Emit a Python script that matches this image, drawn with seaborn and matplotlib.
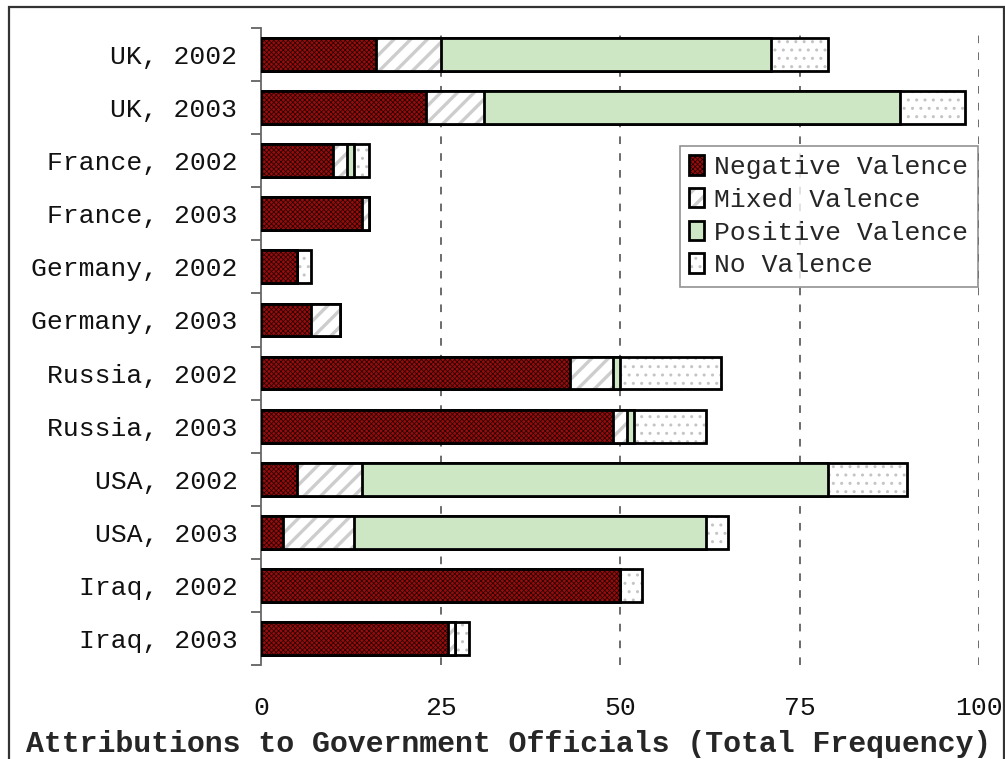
import matplotlib
matplotlib.use("Agg")
import matplotlib.pyplot as plt
import seaborn as sns
import numpy as np
import pandas as pd
from matplotlib.patches import Patch, Rectangle
from matplotlib.colors import to_rgba

categories = ["UK, 2002", "UK, 2003", "France, 2002", "France, 2003",
              "Germany, 2002", "Germany, 2003", "Russia, 2002", "Russia, 2003",
              "USA, 2002", "USA, 2003", "Iraq, 2002", "Iraq, 2003"]
negative = [16, 23, 10, 14, 5, 7, 43, 49, 5, 3, 50, 26]
mixed    = [9, 8, 2, 1, 0, 4, 6, 2, 9, 10, 0, 1]
positive = [46, 58, 1, 0, 0, 0, 1, 1, 65, 49, 0, 0]
novalence = [8, 9, 2, 0, 2, 0, 14, 10, 11, 3, 3, 2]
series_names = ["Negative Valence", "Mixed Valence", "Positive Valence", "No Valence"]
x_ticks = [0, 25, 50, 75, 100]
x_label = "Attributions to Government Officials (Total Frequency)"

FONT = "Liberation Mono"
sns.set_theme(style="white")
plt.rcParams["font.family"] = [FONT, "DejaVu Sans"]

styles = {
    "Negative Valence": dict(face="#950d0d", hatch="xxxxxxx", hcolor="#200000", hlw=0.5),
    "Mixed Valence":    dict(face="white", hatch="//", hcolor="#cdcdcd", hlw=2.4),
    "Positive Valence": dict(face="#cde6c4", hatch=None, hcolor=None, hlw=1.0),
    "No Valence":       dict(face="white", hatch="..", hcolor="#c4c4c4", hlw=1.0),
}

def apply_hatch(p, st):
    if st["hatch"]:
        p.set_hatch(st["hatch"])
        try:
            p.set_hatchcolor(st["hcolor"])
        except Exception:
            p._hatch_color = to_rgba(st["hcolor"])
        try:
            p.set_hatch_linewidth(st["hlw"])
        except Exception:
            pass

def style_patch(p, st, lw=2.0):
    p.set_facecolor(st["face"])
    p.set_edgecolor("black")
    p.set_linewidth(lw)
    apply_hatch(p, st)

fig = plt.figure(figsize=(10.05, 7.59), dpi=100)
ax = fig.add_axes([261/1005, 1 - 665/759, (979-261)/1005, (665-28)/759])

neg = np.array(negative); mix = np.array(mixed); pos = np.array(positive); nov = np.array(novalence)
layers = [
    ("No Valence", neg + mix + pos + nov),
    ("Positive Valence", neg + mix + pos),
    ("Mixed Valence", neg + mix),
    ("Negative Valence", neg),
]

for name, vals in layers:
    df = pd.DataFrame({"cat": categories, "val": vals})
    n0 = len(ax.patches)
    sns.barplot(data=df, x="val", y="cat", orient="h", color="white",
                width=0.62, ax=ax, errorbar=None, zorder=3)
    for p in ax.patches[n0:]:
        style_patch(p, styles[name])
        p.set_zorder(3)
        if p.get_width() == 0:
            p.set_visible(False)

ax.set_xlim(0, 100)
ax.set_ylim(len(categories) - 0.5, -0.5)
ax.set_xticks(x_ticks)
ax.set_xticklabels([str(t) for t in x_ticks])
ax.tick_params(axis="x", length=0, pad=22, labelsize=19, labelcolor="#111111")
ax.tick_params(axis="y", which="major", length=0, pad=17, labelsize=19, labelcolor="#111111")
ax.set_yticks(np.arange(-0.5, len(categories) + 0.5, 1.0), minor=True)
ax.tick_params(axis="y", which="minor", length=7, width=1.2, color="#555555", left=True)
for lbl in ax.get_xticklabels() + ax.get_yticklabels():
    lbl.set_fontfamily(FONT)

ax.set_xlabel(x_label, fontsize=21.5, fontweight="bold", fontfamily=FONT, labelpad=10)
ax.xaxis.set_label_coords((509 - 261) / 718, -0.1025)
ax.set_ylabel("")

for s in ["top", "right", "bottom"]:
    ax.spines[s].set_visible(False)
ax.spines["left"].set_color("#666666")
ax.spines["left"].set_linewidth(1.3)

for t in x_ticks[1:]:
    ax.axvline(t, color="#444444", linestyle=(0, (5, 6)), linewidth=1.1, zorder=1)

handles = [Patch(facecolor=styles[n]["face"], edgecolor="black", linewidth=2.0, label=n)
           for n in series_names]
leg = ax.legend(handles=handles, loc="upper left", bbox_to_anchor=((680-261)/718, 1 - (146-28)/637),
                prop={"family": FONT, "size": 19}, frameon=True, fancybox=False,
                handlelength=0.55, handleheight=0.75, handletextpad=0.4, borderpad=0.35,
                labelspacing=0.33, borderaxespad=0)
for h, n in zip(leg.legend_handles, series_names):
    style_patch(h, styles[n], lw=2.0)
leg.get_frame().set_edgecolor("#777777")
leg.get_frame().set_linewidth(1.2)
leg.set_zorder(5)

fig.patches.append(Rectangle((9/1005, -0.02), (1004-9)/1005, 1.02 - 7/759,
                             transform=fig.transFigure, fill=False,
                             edgecolor="#333333", linewidth=1.6, zorder=0))

fig.savefig("out.png", dpi=100)
